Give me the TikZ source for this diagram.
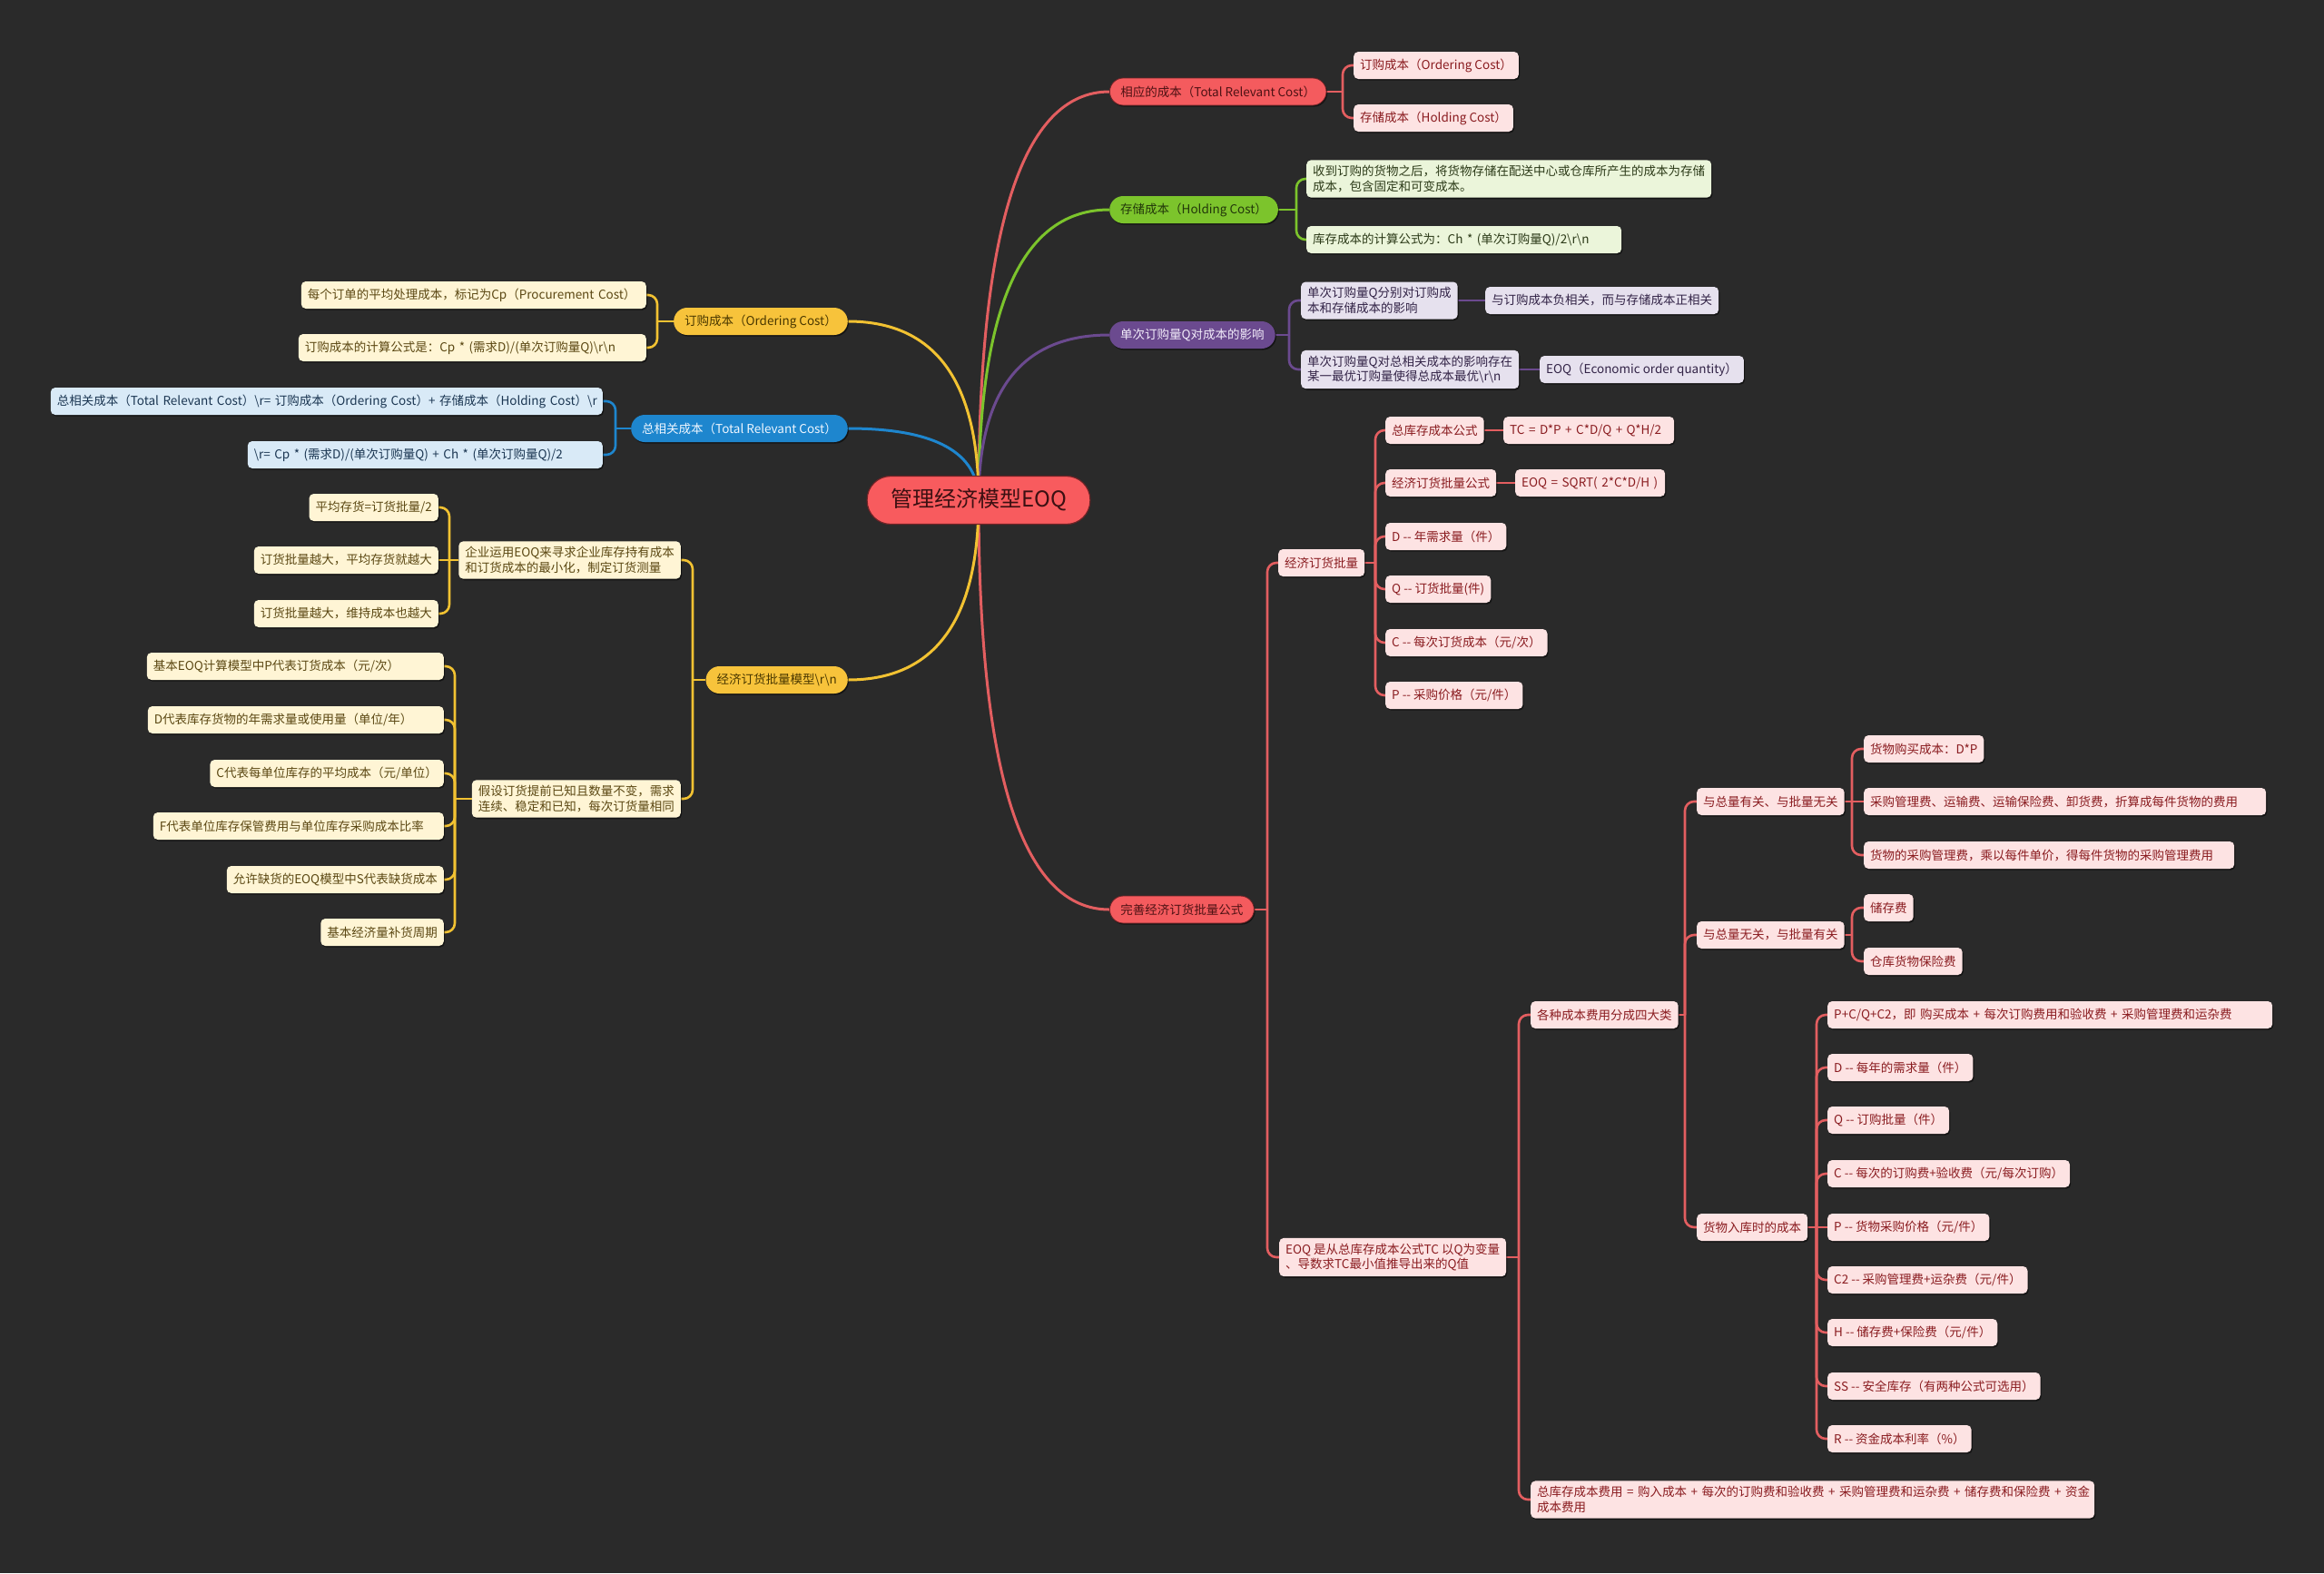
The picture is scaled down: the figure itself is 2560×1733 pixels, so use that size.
\documentclass[tikz,border=0pt]{standalone}
\usepackage{fontspec}
\setmainfont{Noto Sans CJK SC}
\usetikzlibrary{calc,shadows}
\newcommand\bsl{\textbackslash}
\newcommand\dd{-{}-}
\newcommand\fsn{\fontsize{13.5}{16.5}\selectfont}
\definecolor{bgc}{HTML}{2A2A2A}
\definecolor{rootfill}{HTML}{F85B5E}
\definecolor{rootdraw}{HTML}{6E2326}
\definecolor{roottext}{HTML}{3C1012}
\definecolor{redpill}{HTML}{F45B5E}
\definecolor{redpilltext}{HTML}{4E1214}
\definecolor{ered}{HTML}{E35E60}
\definecolor{rkfill}{HTML}{FDE3E3}
\definecolor{rktext}{HTML}{8A1C20}
\definecolor{greenpill}{HTML}{7CC42C}
\definecolor{greenpilltext}{HTML}{22380A}
\definecolor{egreen}{HTML}{7CC42C}
\definecolor{gkfill}{HTML}{EBF5DA}
\definecolor{gktext}{HTML}{2C3A18}
\definecolor{purplepill}{HTML}{6B4A8F}
\definecolor{purplepilltext}{HTML}{F2ECFA}
\definecolor{epurple}{HTML}{6B4A8F}
\definecolor{pkfill}{HTML}{E6E1EE}
\definecolor{pktext}{HTML}{332447}
\definecolor{yellowpill}{HTML}{F7C33B}
\definecolor{yellowpilltext}{HTML}{4A3800}
\definecolor{eyellow}{HTML}{F2C232}
\definecolor{ykfill}{HTML}{FFF5D5}
\definecolor{yktext}{HTML}{5B4813}
\definecolor{bluepill}{HTML}{1E86CE}
\definecolor{bluepilltext}{HTML}{EEF6FF}
\definecolor{eblue}{HTML}{1E86CE}
\definecolor{bkfill}{HTML}{D9EAF7}
\definecolor{bktext}{HTML}{1B3652}
\pgfdeclarelayer{bglayer}
\pgfdeclarelayer{edgelayer}
\pgfsetlayers{bglayer,edgelayer,main}
\tikzset{
  base/.style={font=\fsn, inner xsep=7pt, inner ysep=6pt, minimum height=30pt,
    rounded corners=5pt, align=left,
    drop shadow={shadow xshift=1.2pt, shadow yshift=-1.6pt, opacity=0.5, fill=black}},
  rk/.style={base, fill=rkfill, text=rktext},
  gk/.style={base, fill=gkfill, text=gktext},
  pk/.style={base, fill=pkfill, text=pktext},
  yk/.style={base, fill=ykfill, text=yktext},
  bk/.style={base, fill=bkfill, text=bktext},
  bw/.style={text width=#1-14pt},
  pill/.style={font=\fsn, inner xsep=12pt, inner ysep=4pt, minimum height=30pt,
    rounded corners=15pt,
    drop shadow={shadow xshift=1.2pt, shadow yshift=-1.6pt, opacity=0.5, fill=black}},
  edge/.style={line width=2.6pt, rounded corners=10pt},
  mainedge/.style={line width=3pt},
}
\newcommand\rkids[3]{\foreach \k in {#3}{\draw[edge,#2] (#1) |- (\k.west);}}
\newcommand\lkids[3]{\foreach \k in {#3}{\draw[edge,#2] (#1) |- (\k.east);}}
\begin{document}
\begin{tikzpicture}[x=1pt,y=-1pt]
\begin{pgfonlayer}{bglayer}
\fill[bgc] (0,0) rectangle (2560,1733);
\end{pgfonlayer}
\useasboundingbox (0,0) rectangle (2560,1733);

% root
\node[font=\fontsize{24}{28}\selectfont, fill=rootfill, draw=rootdraw, line width=1.2pt,
  text=roottext, minimum height=53pt, inner xsep=26pt, rounded corners=26pt] (root) at (1078,551) {管理经济模型EOQ};

% ---------- right level 1
\node[pill, fill=redpill, draw=rootdraw, line width=0.8pt, text=redpilltext, anchor=west] (r1) at (1222,101) {相应的成本（Total Relevant Cost）};
\node[pill, fill=greenpill, text=greenpilltext, anchor=west] (r2) at (1222,231) {存储成本（Holding Cost）};
\node[pill, fill=purplepill, text=purplepilltext, anchor=west] (r3) at (1222,369) {单次订购量Q对成本的影响};
\node[pill, fill=redpill, draw=rootdraw, line width=0.8pt, text=redpilltext, anchor=west] (r4) at (1222,1002) {完善经济订货批量公式};

% ---------- left level 1
\node[pill, fill=yellowpill, text=yellowpilltext, anchor=east] (l1) at (934,354) {订购成本（Ordering Cost）};
\node[pill, fill=bluepill, text=bluepilltext, anchor=east] (l2) at (934,472) {总相关成本（Total Relevant Cost）};
\node[pill, fill=yellowpill, text=yellowpilltext, anchor=east] (l3) at (934,749) {经济订货批量模型\bsl r\bsl n};

% ---------- r1 children
\node[rk, anchor=west] (r1a) at (1491,72) {订购成本（Ordering Cost）};
\node[rk, anchor=west] (r1b) at (1491,130) {存储成本（Holding Cost）};
% ---------- r2 children
\node[gk, anchor=west] (r2a) at (1439,197) {收到订购的货物之后，将货物存储在配送中心或仓库所产生的成本为存储\\成本，包含固定和可变成本。};
\node[gk, bw=347pt, anchor=west] (r2b) at (1439,264) {\mbox{库存成本的计算公式为：Ch * (单次订购量Q)/2\bsl r\bsl n}};
% ---------- r3 children
\node[pk, anchor=west] (r3a) at (1433,331) {单次订购量Q分别对订购成\\本和存储成本的影响};
\node[pk, anchor=west] (r3a1) at (1636,331) {与订购成本负相关，而与存储成本正相关};
\node[pk, anchor=west] (r3b) at (1433,407) {单次订购量Q对总相关成本的影响存在\\某一最优订购量使得总成本最优\bsl r\bsl n};
\node[pk, anchor=west] (r3b1) at (1696,407) {EOQ（Economic order quantity）};
% ---------- r4 children
\node[rk, anchor=west] (r4a) at (1408,620) {经济订货批量};
\node[rk, anchor=west] (k1) at (1526,474) {总库存成本公式};
\node[rk, bw=188pt, anchor=west] (k1f) at (1656,474) {\mbox{TC = D*P + C*D/Q + Q*H/2}};
\node[rk, anchor=west] (k2) at (1526,532) {经济订货批量公式};
\node[rk, bw=165pt, anchor=west] (k2f) at (1669,532) {\mbox{EOQ = SQRT( 2*C*D/H )}};
\node[rk, anchor=west] (k3) at (1526,591) {D \dd{} 年需求量（件）};
\node[rk, anchor=west] (k4) at (1526,649) {Q \dd{} 订货批量(件)};
\node[rk, anchor=west] (k5) at (1526,708) {C \dd{} 每次订货成本（元/次）};
\node[rk, anchor=west] (k6) at (1526,766) {P \dd{} 采购价格（元/件）};

\node[rk, anchor=west] (r4b) at (1409,1385) {EOQ 是从总库存成本公式TC 以Q为变量\\、导数求TC最小值推导出来的Q值};
\node[rk, anchor=west] (g0) at (1686,1118) {各种成本费用分成四大类};
\node[rk, bw=621pt, anchor=west] (g9) at (1686,1652) {\mbox{总库存成本费用 = 购入成本 + 每次的订购费和验收费 + 采购管理费和运杂费 + 储存费和保险费 + 资金}\\成本费用};
\node[rk, anchor=west] (g1) at (1869,883) {与总量有关、与批量无关};
\node[rk, anchor=west] (g1a) at (2053,825) {货物购买成本：D*P};
\node[rk, bw=443pt, anchor=west] (g1b) at (2053,883) {\mbox{采购管理费、运输费、运输保险费、卸货费，折算成每件货物的费用}};
\node[rk, bw=408pt, anchor=west] (g1c) at (2053,942) {\mbox{货物的采购管理费，乘以每件单价，得每件货物的采购管理费用}};
\node[rk, anchor=west] (g2) at (1869,1030) {与总量无关，与批量有关};
\node[rk, anchor=west] (g2a) at (2053,1000) {储存费};
\node[rk, anchor=west] (g2b) at (2053,1059) {仓库货物保险费};
\node[rk, anchor=west] (g3) at (1869,1352) {货物入库时的成本};
\node[rk, bw=490pt, anchor=west] (h1) at (2013,1118) {\mbox{P+C/Q+C2，即 购买成本 + 每次订购费用和验收费 + 采购管理费和运杂费}};
\node[rk, anchor=west] (h2) at (2013,1176) {D \dd{} 每年的需求量（件）};
\node[rk, anchor=west] (h3) at (2013,1234) {Q \dd{} 订购批量（件）};
\node[rk, anchor=west] (h4) at (2013,1293) {C \dd{} 每次的订购费+验收费（元/每次订购）};
\node[rk, anchor=west] (h5) at (2013,1352) {P \dd{} 货物采购价格（元/件）};
\node[rk, anchor=west] (h6) at (2013,1410) {C2 \dd{} 采购管理费+运杂费（元/件）};
\node[rk, anchor=west] (h7) at (2013,1468) {H \dd{} 储存费+保险费（元/件）};
\node[rk, anchor=west] (h8) at (2013,1527) {SS \dd{} 安全库存（有两种公式可选用）};
\node[rk, anchor=west] (h9) at (2013,1585) {R \dd{} 资金成本利率（\%）};

% ---------- left children
\node[yk, bw=380pt, anchor=east] (l1a) at (712,325) {\mbox{每个订单的平均处理成本，标记为Cp（Procurement Cost）}};
\node[yk, bw=383pt, anchor=east] (l1b) at (712,383) {\mbox{订购成本的计算公式是：Cp * (需求D)/(单次订购量Q)\bsl r\bsl n}};
\node[bk, bw=608pt, anchor=east] (l2a) at (664,442) {\mbox{总相关成本（Total Relevant Cost）\bsl r= 订购成本（Ordering Cost）+ 存储成本（Holding Cost）\bsl r}};
\node[bk, bw=391pt, anchor=east] (l2b) at (664,501) {\mbox{\bsl r= Cp * (需求D)/(单次订购量Q) + Ch * (单次订购量Q)/2}};
\node[yk, anchor=east] (l3a) at (750,617) {企业运用EOQ来寻求企业库存持有成本\\和订货成本的最小化，制定订货测量};
\node[yk, anchor=east] (m1) at (483,559) {平均存货=订货批量/2};
\node[yk, anchor=east] (m2) at (483,617) {订货批量越大，平均存货就越大};
\node[yk, anchor=east] (m3) at (483,676) {订货批量越大，维持成本也越大};
\node[yk, anchor=east] (l3b) at (750,880) {假设订货提前已知且数量不变，需求\\连续、稳定和已知，每次订货量相同};
\node[yk, bw=327pt, anchor=east] (n1) at (489,734) {\mbox{基本EOQ计算模型中P代表订货成本（元/次）}};
\node[yk, bw=326pt, anchor=east] (n2) at (489,793) {\mbox{D代表库存货物的年需求量或使用量（单位/年）}};
\node[yk, anchor=east] (n3) at (489,852) {C代表每单位库存的平均成本（元/单位）};
\node[yk, bw=320pt, anchor=east] (n4) at (489,910) {\mbox{F代表单位库存保管费用与单位库存采购成本比率}};
\node[yk, anchor=east] (n5) at (489,969) {允许缺货的EOQ模型中S代表缺货成本};
\node[yk, anchor=east] (n6) at (489,1027) {基本经济量补货周期};

% trunk coordinates
\coordinate (tr1) at (1479,101);
\coordinate (tr2) at (1428,231);
\coordinate (tr3) at (1420,369);
\coordinate (tr4) at (1396,1002);
\coordinate (tr4a) at (1515,620);
\coordinate (tr4b) at (1673,1385);
\coordinate (tg0) at (1856,1118);
\coordinate (tg1) at (2040,883);
\coordinate (tg2) at (2040,1030);
\coordinate (tg3) at (2001,1352);
\coordinate (tl1) at (724,354);
\coordinate (tl2) at (678,472);
\coordinate (tl3) at (763,749);
\coordinate (tl3a) at (495,617);
\coordinate (tl3b) at (501,880);

\begin{pgfonlayer}{edgelayer}
% main curves
\foreach \n/\cc in {r1/ered, r2/egreen, r3/epurple, r4/ered}
  \draw[mainedge, \cc] (root.center) .. controls ($(root.center)!0.667!(root.center |- \n.west)$) and ($(\n.west)!0.667!(root.center |- \n.west)$) .. (\n.west);
\foreach \n/\cc in {l1/eyellow, l2/eblue, l3/eyellow}
  \draw[mainedge, \cc] (root.center) .. controls ($(root.center)!0.667!(root.center |- \n.east)$) and ($(\n.east)!0.667!(root.center |- \n.east)$) .. (\n.east);

% right tree
\draw[edge,ered] (r1.east) -- (tr1); \rkids{tr1}{ered}{r1a,r1b}
\draw[edge,egreen] (r2.east) -- (tr2); \rkids{tr2}{egreen}{r2a,r2b}
\draw[edge,epurple] (r3.east) -- (tr3); \rkids{tr3}{epurple}{r3a,r3b}
\draw[edge,epurple] (r3a.east) -- (r3a1.west);
\draw[edge,epurple] (r3b.east) -- (r3b1.west);
\draw[edge,ered] (r4.east) -- (tr4); \rkids{tr4}{ered}{r4a,r4b}
\draw[edge,ered] (r4a.east) -- (tr4a); \rkids{tr4a}{ered}{k1,k2,k3,k4,k5,k6}
\draw[edge,ered] (k1.east) -- (k1f.west);
\draw[edge,ered] (k2.east) -- (k2f.west);
\draw[edge,ered] (r4b.east) -- (tr4b); \rkids{tr4b}{ered}{g0,g9}
\draw[edge,ered] (g0.east) -- (tg0); \rkids{tg0}{ered}{g1,g2,g3}
\draw[edge,ered] (g1.east) -- (g1b.west); \rkids{tg1}{ered}{g1a,g1c}
\draw[edge,ered] (g2.east) -- (tg2); \rkids{tg2}{ered}{g2a,g2b}
\draw[edge,ered] (g3.east) -- (h5.west); \rkids{tg3}{ered}{h1,h2,h3,h4,h6,h7,h8,h9}

% left tree
\draw[edge,eyellow] (l1.west) -- (tl1); \lkids{tl1}{eyellow}{l1a,l1b}
\draw[edge,eblue] (l2.west) -- (tl2); \lkids{tl2}{eblue}{l2a,l2b}
\draw[edge,eyellow] (l3.west) -- (tl3); \lkids{tl3}{eyellow}{l3a,l3b}
\draw[edge,eyellow] (l3a.west) -- (m2.east); \lkids{tl3a}{eyellow}{m1,m3}
\draw[edge,eyellow] (l3b.west) -- (tl3b); \lkids{tl3b}{eyellow}{n1,n2,n3,n4,n5,n6}
\end{pgfonlayer}
\end{tikzpicture}
\end{document}
